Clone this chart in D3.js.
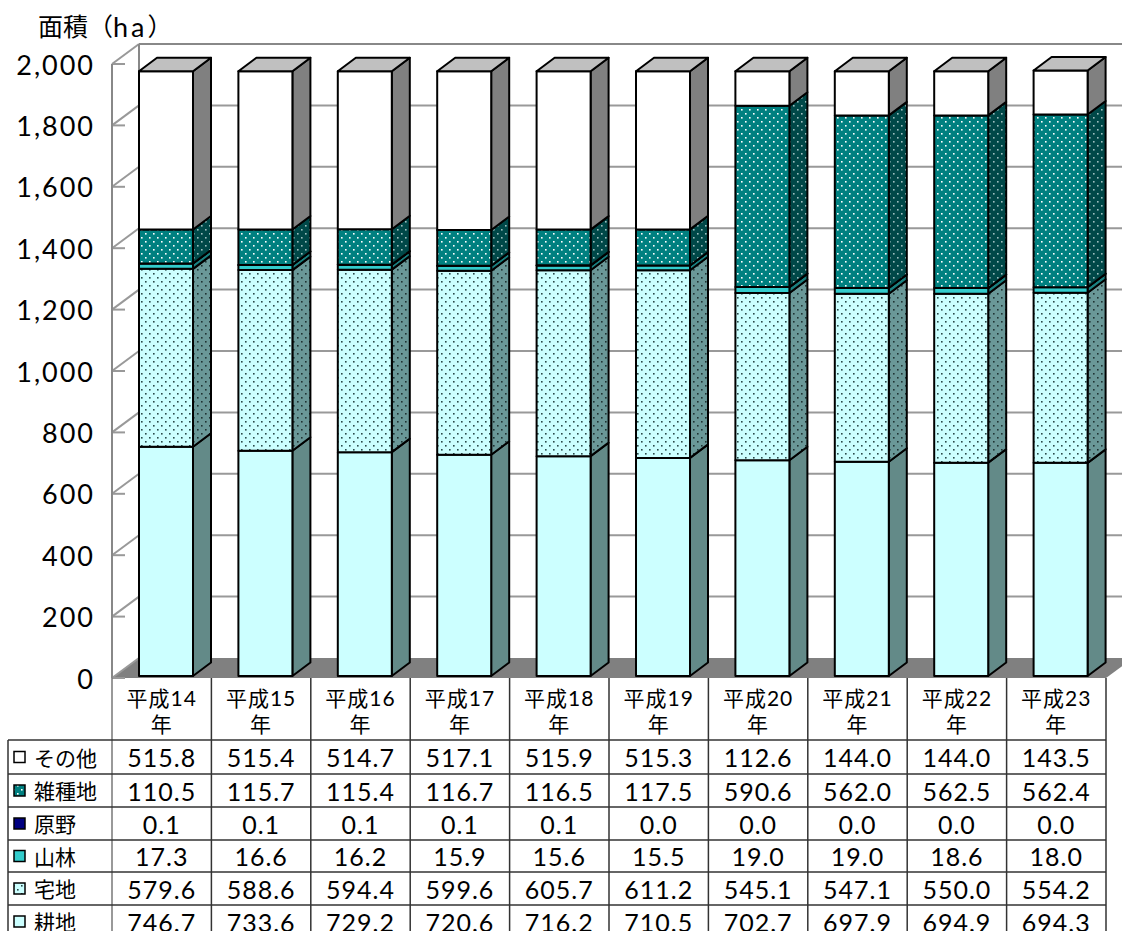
<!DOCTYPE html>
<html>
<head>
<meta charset="utf-8">
<script src="https://cdn.jsdelivr.net/npm/d3@7"></script>
<style>
  html, body { margin: 0; padding: 0; background: #fff; }
  svg { display: block; }
  text { font-family: Lato, "Noto Sans CJK JP", sans-serif; fill: #000; }
</style>
</head>
<body>
<svg id="chart" width="1122" height="931"></svg>
<script>
// Land use area by year (ha)
const categories = ["平成14年", "平成15年", "平成16年", "平成17年", "平成18年",
                    "平成19年", "平成20年", "平成21年", "平成22年", "平成23年"];
const categoryLines = categories.map(c => [c.slice(0, -1), "年"]);

// Stack order from bottom to top
const seriesNames = ["耕地", "宅地", "山林", "原野", "雑種地", "その他"];
const farmland  = [746.7, 733.6, 729.2, 720.6, 716.2, 710.5, 702.7, 697.9, 694.9, 694.3];
const housing   = [579.6, 588.6, 594.4, 599.6, 605.7, 611.2, 545.1, 547.1, 550.0, 554.2];
const forest    = [17.3, 16.6, 16.2, 15.9, 15.6, 15.5, 19.0, 19.0, 18.6, 18.0];
const field     = [0.1, 0.1, 0.1, 0.1, 0.1, 0.0, 0.0, 0.0, 0.0, 0.0];
const misc      = [110.5, 115.7, 115.4, 116.7, 116.5, 117.5, 590.6, 562.0, 562.5, 562.4];
const other     = [515.8, 515.4, 514.7, 517.1, 515.9, 515.3, 112.6, 144.0, 144.0, 143.5];
const seriesValues = [farmland, housing, forest, field, misc, other];

const yTicks = [0, 200, 400, 600, 800, 1000, 1200, 1400, 1600, 1800, 2000];
const axisTitle = ["面積", "（", "ha", "）"];

// Table rows, top to bottom
const tableOrder = ["その他", "雑種地", "原野", "山林", "宅地", "耕地"];

const svg = d3.select("#chart");

// Geometry
const plotLeft = 112, plotRight = 1106;
const wallDX = 27, wallDY = -20;       // depth of the plot box
const barDX = 18, barDY = -13.5;       // depth of each column
const yAxis = d3.scaleLinear().domain([0, 2000]).range([678, 64]);
const yBar = d3.scaleLinear().domain([0, 2000]).range([676, 62]);
const xCol = d3.scaleBand().domain(categories).range([plotLeft, plotRight]).paddingInner(0).paddingOuter(0);
const barOffset = 27, barW = 54;

// Fills
const defs = svg.append("defs");
function dotPattern(id, bg, dot) {
  const p = defs.append("pattern").attr("id", id).attr("patternUnits", "userSpaceOnUse")
    .attr("width", 8).attr("height", 8);
  p.append("rect").attr("width", 8).attr("height", 8).attr("fill", bg);
  p.append("rect").attr("x", 1).attr("y", 1).attr("width", 1.6).attr("height", 1.6).attr("fill", dot);
  p.append("rect").attr("x", 5).attr("y", 5).attr("width", 1.6).attr("height", 1.6).attr("fill", dot);
}
dotPattern("misc-front", "#008080", "#ffffff");
dotPattern("misc-side", "#004848", "#9fbfbf");
dotPattern("house-front", "#ccffff", "#2a4a4a");
dotPattern("house-side", "#6a9898", "#1f3333");

const styles = {
  "耕地":  { front: "#ccffff", side: "#638a88" },
  "宅地":  { front: "url(#house-front)", side: "url(#house-side)" },
  "山林":  { front: "#33cccc", side: "#1a8080" },
  "原野":  { front: "#000080", side: "#000050" },
  "雑種地": { front: "url(#misc-front)", side: "url(#misc-side)" },
  "その他": { front: "#ffffff", side: "#808080" }
};

// Plot box: floor, walls, gridlines
const gridColor = "#999999";
svg.append("polygon")
  .attr("points", [[plotLeft, yAxis(0)], [plotLeft + wallDX, yAxis(0) + wallDY],
                   [plotRight + wallDX, yAxis(0) + wallDY], [plotRight, yAxis(0)]].join(" "))
  .attr("fill", "#808080");

const grid = svg.append("g").attr("stroke", gridColor).attr("stroke-width", 2).attr("fill", "none");
yTicks.forEach(t => {
  const y = yAxis(t);
  if (t > 0) {
    grid.append("line").attr("x1", plotLeft + wallDX).attr("x2", plotRight + wallDX)
      .attr("y1", y + wallDY).attr("y2", y + wallDY)
      .attr("stroke", t === 2000 ? "#888" : gridColor);
  }
  grid.append("line").attr("x1", plotLeft).attr("y1", y)
    .attr("x2", plotLeft + wallDX).attr("y2", y + wallDY);
  grid.append("line").attr("x1", plotLeft).attr("x2", plotLeft + 13).attr("y1", y).attr("y2", y);
});
grid.append("line").attr("x1", plotLeft).attr("x2", plotLeft)
  .attr("y1", yAxis(2000)).attr("y2", yAxis(0)).attr("stroke", "#888");
grid.append("line").attr("x1", plotLeft + wallDX).attr("x2", plotLeft + wallDX)
  .attr("y1", yAxis(2000) + wallDY).attr("y2", yAxis(0) + wallDY).attr("stroke", "#888");

// Y tick labels and title
svg.append("g").selectAll("text").data(yTicks).join("text")
  .attr("x", 95).attr("y", d => yAxis(d))
  .attr("text-anchor", "end").attr("dominant-baseline", "central")
  .attr("font-size", 27).attr("letter-spacing", 2)
  .text(d => d3.format(",")(d));
const title = svg.append("text").attr("x", 38).attr("y", 26).attr("dominant-baseline", "central");
title.append("tspan").attr("font-size", 25).text(axisTitle[0]);
title.append("tspan").attr("font-size", 25).text(axisTitle[1]);
title.append("tspan").attr("font-size", 27).attr("letter-spacing", 3).text(axisTitle[2]);
title.append("tspan").attr("font-size", 25).text(axisTitle[3]);

// Stacked 3D columns
const rows = categories.map((c, i) => {
  const r = { cat: c };
  seriesNames.forEach((s, k) => r[s] = seriesValues[k][i]);
  return r;
});
const stacked = d3.stack().keys(seriesNames)(rows);

const bars = svg.append("g").attr("stroke", "#000").attr("stroke-width", 2).attr("stroke-linejoin", "round");
categories.forEach((c, i) => {
  const x0 = xCol(c) + barOffset, x1 = x0 + barW;
  const g = bars.append("g");
  stacked.forEach(layer => {
    const d = layer[i];
    const yb = yBar(d[0]), yt = yBar(d[1]);
    const st = styles[layer.key];
    g.append("polygon")
      .attr("points", [[x1, yb], [x1 + barDX, yb + barDY], [x1 + barDX, yt + barDY], [x1, yt]].join(" "))
      .attr("fill", st.side);
    g.append("rect").attr("x", x0).attr("y", yt).attr("width", barW).attr("height", yb - yt)
      .attr("fill", st.front);
  });
  const top = stacked[stacked.length - 1][i][1];
  const yt = yBar(top);
  g.append("polygon")
    .attr("points", [[x0, yt], [x0 + barDX, yt + barDY], [x1 + barDX, yt + barDY], [x1, yt]].join(" "))
    .attr("fill", "#c0c0c0");
});

// Data table
const rowLines = [740, 774, 807, 840, 872, 905, 938];
const table = svg.append("g");
const tableLine = "#333";
d3.range(categories.length + 1).forEach(k => {
  const x = plotLeft + k * xCol.step();
  table.append("line").attr("x1", x).attr("x2", x).attr("y1", yAxis(0)).attr("y2", 931)
    .attr("stroke", k === 0 ? "#777" : tableLine).attr("stroke-width", 1.5);
});
table.append("line").attr("x1", 8).attr("x2", 8).attr("y1", rowLines[0]).attr("y2", 931)
  .attr("stroke", tableLine).attr("stroke-width", 1.5);
rowLines.forEach(y => {
  table.append("line").attr("x1", 8).attr("x2", plotRight).attr("y1", y).attr("y2", y)
    .attr("stroke", tableLine).attr("stroke-width", 1.5);
});

// Header: category names
categories.forEach((c, i) => {
  const cx = xCol(c) + xCol.bandwidth() / 2;
  const t = table.append("text").attr("x", cx).attr("text-anchor", "middle")
    .attr("font-size", 21).attr("letter-spacing", 1);
  t.append("tspan").attr("x", cx).attr("y", 706).text(categoryLines[i][0]);
  t.append("tspan").attr("x", cx).attr("y", 732).text(categoryLines[i][1]);
});

// Rows: legend key, label, values
tableOrder.forEach((name, r) => {
  const k = seriesNames.indexOf(name);
  const yc = (rowLines[r] + rowLines[r + 1]) / 2;
  const st = styles[name];
  table.append("rect").attr("x", 14).attr("y", yc - 5.5).attr("width", 11).attr("height", 11)
    .attr("fill", st.front).attr("stroke", "#000").attr("stroke-width", 1.5);
  table.append("text").attr("x", 34).attr("y", yc).attr("dominant-baseline", "central")
    .attr("font-size", 21).text(name);
  seriesValues[k].forEach((v, i) => {
    table.append("text").attr("x", xCol(categories[i]) + xCol.bandwidth() / 2).attr("y", yc)
      .attr("text-anchor", "middle").attr("dominant-baseline", "central")
      .attr("font-size", 25).attr("letter-spacing", 1).text(d3.format(".1f")(v));
  });
});
</script>
</body>
</html>
